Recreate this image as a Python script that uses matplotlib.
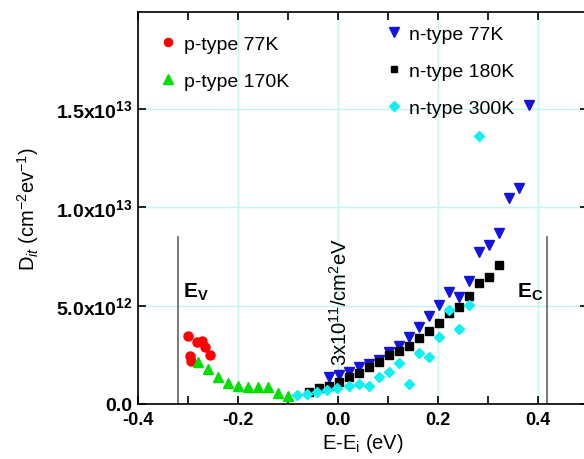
import matplotlib
matplotlib.use("Agg")
import matplotlib.pyplot as plt
from matplotlib.ticker import MultipleLocator, FixedLocator, FixedFormatter

plt.rcParams["font.family"] = ["Liberation Sans", "DejaVu Sans"]
plt.rcParams["mathtext.fontset"] = "custom"
plt.rcParams["mathtext.rm"] = "Liberation Sans"
plt.rcParams["mathtext.it"] = "Liberation Sans:italic"
plt.rcParams["mathtext.bf"] = "Liberation Sans:bold"
plt.rcParams["mathtext.default"] = "regular"

# data (Dit in units of 1e12 cm^-2 eV^-1)
p77_x = [-0.301, -0.297, -0.295, -0.283, -0.273, -0.266, -0.257]
p77_y = [3.44, 2.45, 2.20, 3.13, 3.21, 2.88, 2.49]

p170_x = [-0.281, -0.261, -0.241, -0.221, -0.201, -0.181, -0.161, -0.141, -0.121, -0.101]
p170_y = [2.12, 1.78, 1.36, 1.07, 0.93, 0.88, 0.85, 0.85, 0.56, 0.42]

n77_x = [-0.019, 0.001, 0.021, 0.041, 0.061, 0.081, 0.101, 0.121, 0.141, 0.161,
         0.181, 0.201, 0.222, 0.242, 0.262, 0.282, 0.302, 0.322, 0.342, 0.362, 0.382]
n77_y = [1.36, 1.47, 1.64, 1.86, 2.03, 2.25, 2.62, 2.96, 3.39, 3.89,
         4.48, 5.03, 5.67, 5.45, 6.26, 7.70, 8.07, 8.68, 10.46, 10.95, 15.18]

n180_x = [-0.059, -0.039, -0.019, 0.001, 0.021, 0.041, 0.061, 0.081, 0.101, 0.121,
          0.141, 0.161, 0.181, 0.201, 0.222, 0.242, 0.262, 0.282, 0.302, 0.322]
n180_y = [0.62, 0.80, 0.93, 1.10, 1.36, 1.57, 1.86, 2.12, 2.49, 2.71,
          2.96, 3.33, 3.72, 4.11, 4.60, 4.91, 5.50, 6.14, 6.43, 7.06]

n300_x = [-0.083, -0.063, -0.043, -0.023, -0.003, 0.021, 0.041, 0.061, 0.081, 0.101,
          0.121, 0.141, 0.161, 0.181, 0.201, 0.222, 0.242, 0.262, 0.282]
n300_y = [0.46, 0.51, 0.59, 0.73, 0.80, 0.93, 1.02, 0.93, 1.36, 1.64,
          2.07, 1.02, 2.59, 2.37, 3.39, 4.79, 3.81, 5.03, 13.62]

ev_x = -0.32
ec_x = 0.418
band_top = 8.5e12

yticks = [0, 5e12, 1e13, 1.5e13]
ytick_labels = ["0.0", "5.0x10$^{12}$", "1.0x10$^{13}$", "1.5x10$^{13}$"]

scale = 1e12
fig = plt.figure(figsize=(5.84, 4.6), dpi=100)
ax = fig.add_axes([0.2363, 0.1196, 0.770, 0.8521])

ax.grid(True, which="major", color="#c6f2f0", linewidth=1.0)
ax.set_axisbelow(True)

s1, = ax.plot(p77_x, [v * scale for v in p77_y], "o", color="#ff0000", ms=6.5, ls="none", label="p-type 77K")
s2, = ax.plot(p170_x, [v * scale for v in p170_y], "^", color="#00e000", ms=7.5, ls="none", label="p-type 170K")
s3, = ax.plot(n77_x, [v * scale for v in n77_y], "v", color="#1414dc", ms=7.5, ls="none", label="n-type 77K")
s4, = ax.plot(n180_x, [v * scale for v in n180_y], "s", color="#000000", ms=5.5, ls="none", label="n-type 180K")
s5, = ax.plot(n300_x, [v * scale for v in n300_y], "D", color="#10f0f0", ms=5.5, ls="none", label="n-type 300K")

ax.plot([ev_x, ev_x], [0, band_top], color="#707070", lw=1.3)
ax.plot([ec_x, ec_x], [0, band_top], color="#707070", lw=1.3)
ax.text(-0.311, 5.45e12, "E$_V$", fontsize=15, fontweight="bold", ha="left", va="baseline")
ax.text(0.357, 5.45e12, "E$_C$", fontsize=15, fontweight="bold", ha="left", va="baseline")
ax.text(0.004, 2.0e12, "3x10$^{11}$/cm$^2$eV", fontsize=14.5, rotation=90, ha="center", va="bottom")

ax.set_xlim(-0.4, 0.499)
ax.set_ylim(0, 1.99e13)
ax.xaxis.set_major_locator(MultipleLocator(0.2))
ax.xaxis.set_minor_locator(MultipleLocator(0.1))
ax.yaxis.set_major_locator(FixedLocator(yticks))
ax.yaxis.set_major_formatter(FixedFormatter(ytick_labels))
ax.xaxis.set_major_formatter(plt.FuncFormatter(lambda v, p: f"{v:.1f}"))
ax.tick_params(which="both", direction="in", top=True, right=True, length=6, width=1.2)
ax.tick_params(axis="x", labelsize=13, pad=5)
ax.tick_params(axis="y", labelsize=14, pad=4)
for lab in ax.get_xticklabels() + ax.get_yticklabels():
    lab.set_fontweight("bold")
for sp in ax.spines.values():
    sp.set_linewidth(1.2)

ax.set_xlabel("E-E$_i$ (eV)", fontsize=14.5, labelpad=2)
ax.set_ylabel("D$_{\\mathit{it}}$ (cm$^{-2}$ev$^{-1}$)", fontsize=14.5, labelpad=11)

leg1 = ax.legend(handles=[s1, s2], loc="upper left", bbox_to_anchor=(0.011, 0.986), frameon=False,
                 fontsize=14, handlelength=0.8, handletextpad=0.4, labelspacing=1.0, markerscale=0.9)
ax.add_artist(leg1)
ax.legend(handles=[s3, s4, s5], loc="upper left", bbox_to_anchor=(0.512, 1.011), frameon=False,
          fontsize=14, handlelength=0.8, handletextpad=0.4, labelspacing=1.0, markerscale=0.9)

fig.savefig("out.png", dpi=100)
